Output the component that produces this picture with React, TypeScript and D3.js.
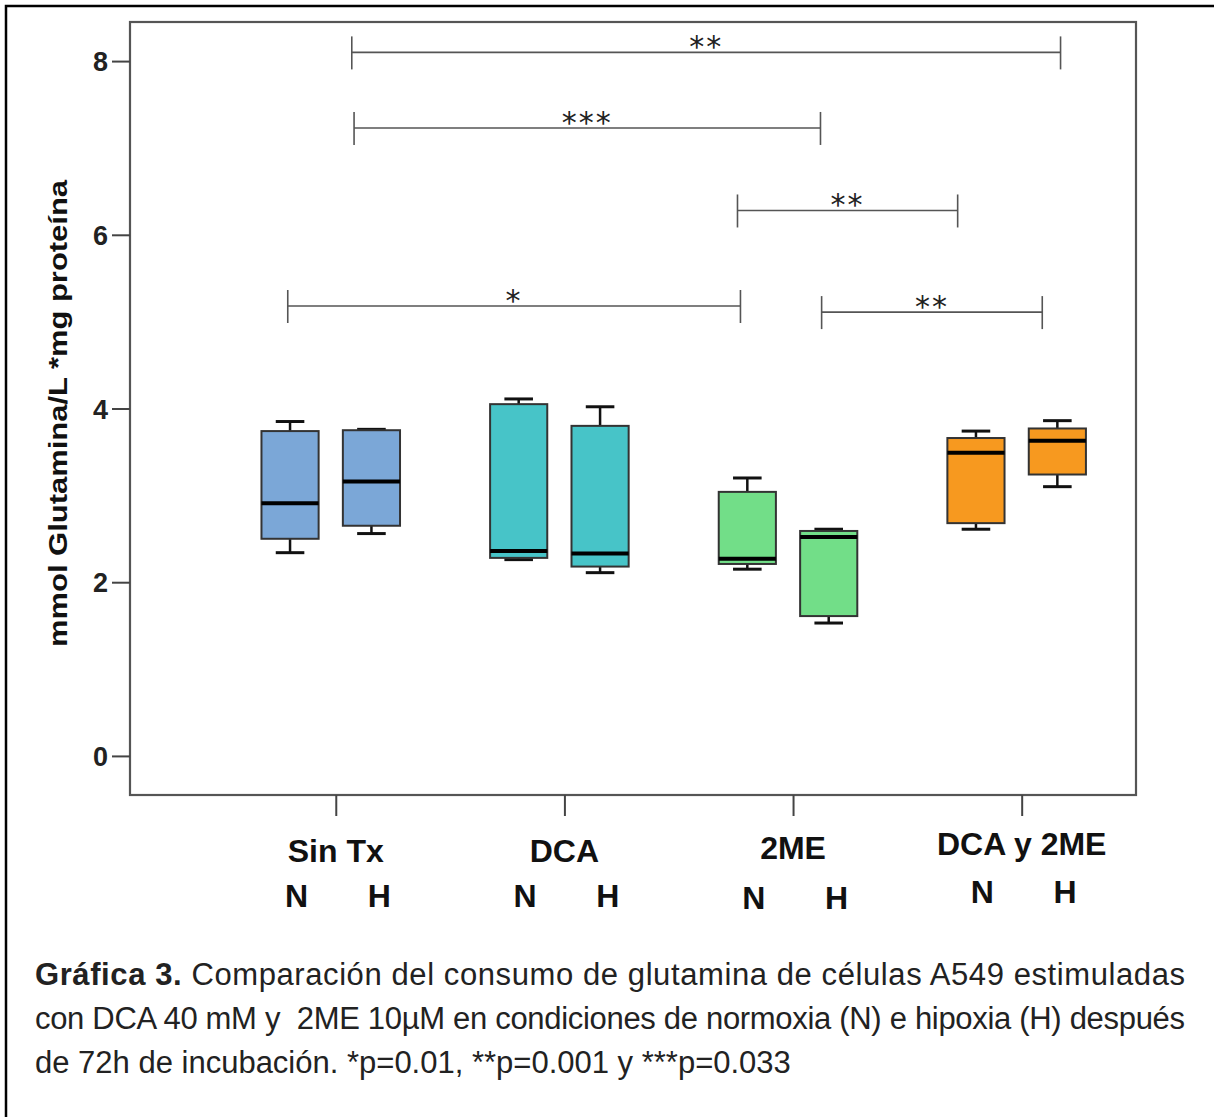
import { useRef, useEffect } from 'react';
import * as d3 from 'd3';

// groups on the x axis and the two conditions inside each group
const groups = ["Sin Tx", "DCA", "2ME", "DCA y 2ME"];
const conditions = ["N", "H"];

// box plot values, [N, H] per group
const whiskerLow = [[2.34, 2.56], [2.26, 2.11], [2.15, 1.53], [2.61, 3.10]];
const q1 = [[2.50, 2.65], [2.28, 2.18], [2.21, 1.61], [2.68, 3.24]];
const median = [[2.91, 3.16], [2.36, 2.33], [2.27, 2.52], [3.49, 3.63]];
const q3 = [[3.74, 3.75], [4.05, 3.80], [3.04, 2.59], [3.66, 3.77]];
const whiskerHigh = [[3.85, 3.76], [4.11, 4.02], [3.20, 2.61], [3.74, 3.86]];
const groupColors = ["#7ba7d7", "#47c4c8", "#72de88", "#f7991f"];

const yTicks = [0, 2, 4, 6, 8];

// significance brackets (x in group units, level in y units)
const bracketFrom = [0.07, 0.08, 1.757, -0.21, 2.125];
const bracketTo = [3.17, 2.12, 2.72, 1.77, 3.09];
const bracketLevel = [8.10, 7.23, 6.28, 5.18, 5.11];
const bracketLabel = ["**", "***", "**", "*", "**"];

const captionLines = [
    [["Gráfica 3.", true], [" Comparación del consumo de glutamina de células A549 estimuladas", false]],
    [["con DCA 40 mM y  2ME 10µM en condiciones de normoxia (N) e hipoxia (H) después", false]],
    [["de 72h de incubación. *p=0.01, **p=0.001 y ***p=0.033", false]],
];

function BoxChart() {

    const svgRef = useRef();

    useEffect(() => {

        const width = 1214;
        const height = 1117;
        const font = "'Liberation Sans', Arial, Helvetica, sans-serif";

        const svg = d3.select(svgRef.current)
            .attr("width", width)
            .attr("height", height)
            .style("display", "block")
            .style("background", "#fff");

        svg.selectAll("*").remove();

        //Scales
        const x = d3.scaleLinear().domain([-0.9, 3.5]).range([130, 1136]);
        const y = d3.scaleLinear().domain([-0.45, 8.45]).range([795, 22]);
        const unit = x(1) - x(0);
        const offset = { N: -0.2, H: 0.156 };
        const boxW = 0.25 * unit;
        const capW = boxW / 2;

        //Outer border
        svg.append("rect")
            .attr("x", 6).attr("y", 6)
            .attr("width", width + 20).attr("height", height + 20)
            .attr("fill", "none")
            .attr("stroke", "#000")
            .attr("stroke-width", 2.5);

        //Plot frame
        svg.append("rect")
            .attr("x", x(-0.9)).attr("y", y(8.45))
            .attr("width", x(3.5) - x(-0.9))
            .attr("height", y(-0.45) - y(8.45))
            .attr("fill", "none")
            .attr("stroke", "#555")
            .attr("stroke-width", 2.2);

        //Y axis
        const yAxis = svg.append("g")
            .attr("transform", `translate(${x(-0.9)},0)`)
            .call(d3.axisLeft(y).tickValues(yTicks).tickSize(18).tickPadding(4));
        yAxis.select(".domain").remove();
        yAxis.selectAll(".tick line").attr("stroke", "#444").attr("stroke-width", 2);
        yAxis.selectAll(".tick text")
            .attr("font-family", font)
            .attr("font-size", 27)
            .attr("font-weight", "bold")
            .attr("fill", "#222")
            .attr("dy", "0.36em");

        //X axis ticks
        const xAxis = svg.append("g")
            .attr("transform", `translate(0,${y(-0.45)})`)
            .call(d3.axisBottom(x).tickValues([0, 1, 2, 3]).tickSize(21).tickFormat(() => ""));
        xAxis.select(".domain").remove();
        xAxis.selectAll(".tick line").attr("stroke", "#444").attr("stroke-width", 2);

        //Group labels
        const labelNudge = [0, 0, -3, -7];
        groups.forEach((gName, gi) => {
            svg.append("text")
                .attr("x", x(gi))
                .attr("y", 862 + labelNudge[gi])
                .attr("text-anchor", "middle")
                .attr("font-family", font)
                .attr("font-size", 32)
                .attr("font-weight", "bold")
                .attr("fill", "#111")
                .text(gName);
            const condX = { N: -0.172, H: 0.19 };
            conditions.forEach((c) => {
                svg.append("text")
                    .attr("x", x(gi + condX[c]))
                    .attr("y", 907 + (gi === 3 ? -4 : 0) + (gi === 2 ? 2 : 0))
                    .attr("text-anchor", "middle")
                    .attr("font-family", font)
                    .attr("font-size", 32)
                    .attr("font-weight", "bold")
                    .attr("fill", "#111")
                    .text(c);
            });
        });

        //Y axis title
        svg.append("text")
            .attr("transform", `translate(67,${(180 + 647) / 2}) rotate(-90)`)
            .attr("text-anchor", "middle")
            .attr("font-family", font)
            .attr("font-size", 25)
            .attr("font-weight", "bold")
            .attr("fill", "#111")
            .attr("textLength", 467)
            .attr("lengthAdjust", "spacingAndGlyphs")
            .text("mmol Glutamina/L *mg proteína");

        //Boxes
        groups.forEach((gName, gi) => {
            conditions.forEach((c, ci) => {
                const cx = x(gi + offset[c]);
                const g = svg.append("g");
                // whisker stems
                g.append("line")
                    .attr("x1", cx).attr("x2", cx)
                    .attr("y1", y(whiskerHigh[gi][ci])).attr("y2", y(q3[gi][ci]))
                    .attr("stroke", "#111").attr("stroke-width", 2.5);
                g.append("line")
                    .attr("x1", cx).attr("x2", cx)
                    .attr("y1", y(q1[gi][ci])).attr("y2", y(whiskerLow[gi][ci]))
                    .attr("stroke", "#111").attr("stroke-width", 2.5);
                // caps
                [whiskerHigh[gi][ci], whiskerLow[gi][ci]].forEach((v) => {
                    g.append("line")
                        .attr("x1", cx - capW / 2).attr("x2", cx + capW / 2)
                        .attr("y1", y(v)).attr("y2", y(v))
                        .attr("stroke", "#111").attr("stroke-width", 3);
                });
                // box
                g.append("rect")
                    .attr("x", cx - boxW / 2)
                    .attr("y", y(q3[gi][ci]))
                    .attr("width", boxW)
                    .attr("height", y(q1[gi][ci]) - y(q3[gi][ci]))
                    .attr("fill", groupColors[gi])
                    .attr("stroke", "#333")
                    .attr("stroke-width", 2);
                // median
                g.append("line")
                    .attr("x1", cx - boxW / 2).attr("x2", cx + boxW / 2)
                    .attr("y1", y(median[gi][ci])).attr("y2", y(median[gi][ci]))
                    .attr("stroke", "#000").attr("stroke-width", 4);
            });
        });

        //Significance brackets
        bracketLabel.forEach((lab, i) => {
            const x1 = x(bracketFrom[i]);
            const x2 = x(bracketTo[i]);
            const yy = y(bracketLevel[i]);
            const b = svg.append("g").attr("stroke", "#555").attr("stroke-width", 1.6);
            b.append("line").attr("x1", x1).attr("x2", x2).attr("y1", yy).attr("y2", yy);
            b.append("line").attr("x1", x1).attr("x2", x1).attr("y1", yy - 16).attr("y2", yy + 17);
            b.append("line").attr("x1", x2).attr("x2", x2).attr("y1", yy - 16).attr("y2", yy + 17);
            svg.append("text")
                .attr("x", (x1 + x2) / 2)
                .attr("y", yy + 5)
                .attr("text-anchor", "middle")
                .attr("font-family", "'DejaVu Sans', sans-serif")
                .attr("font-size", 30)
                .attr("letter-spacing", 2)
                .attr("fill", "#222")
                .text(lab);
        });

        //Caption
        captionLines.forEach((parts, li) => {
            const t = svg.append("text")
                .attr("x", 35)
                .attr("y", 985 + li * 44)
                .attr("font-family", font)
                .attr("font-size", 31)
                .attr("fill", "#222");
            if (li < 2) {
                t.attr("textLength", 1150).attr("lengthAdjust", "spacing");
            }
            parts.forEach(([s, bold]) => {
                t.append("tspan")
                    .attr("font-weight", bold ? "bold" : "normal")
                    .attr("xml:space", "preserve")
                    .text(s);
            });
        });

    }, []);

    return <svg ref={svgRef} />;
}

export default function App() {
    return (
        <div>
            <style>{"body{margin:0}"}</style>
            <BoxChart />
        </div>
    );
}
